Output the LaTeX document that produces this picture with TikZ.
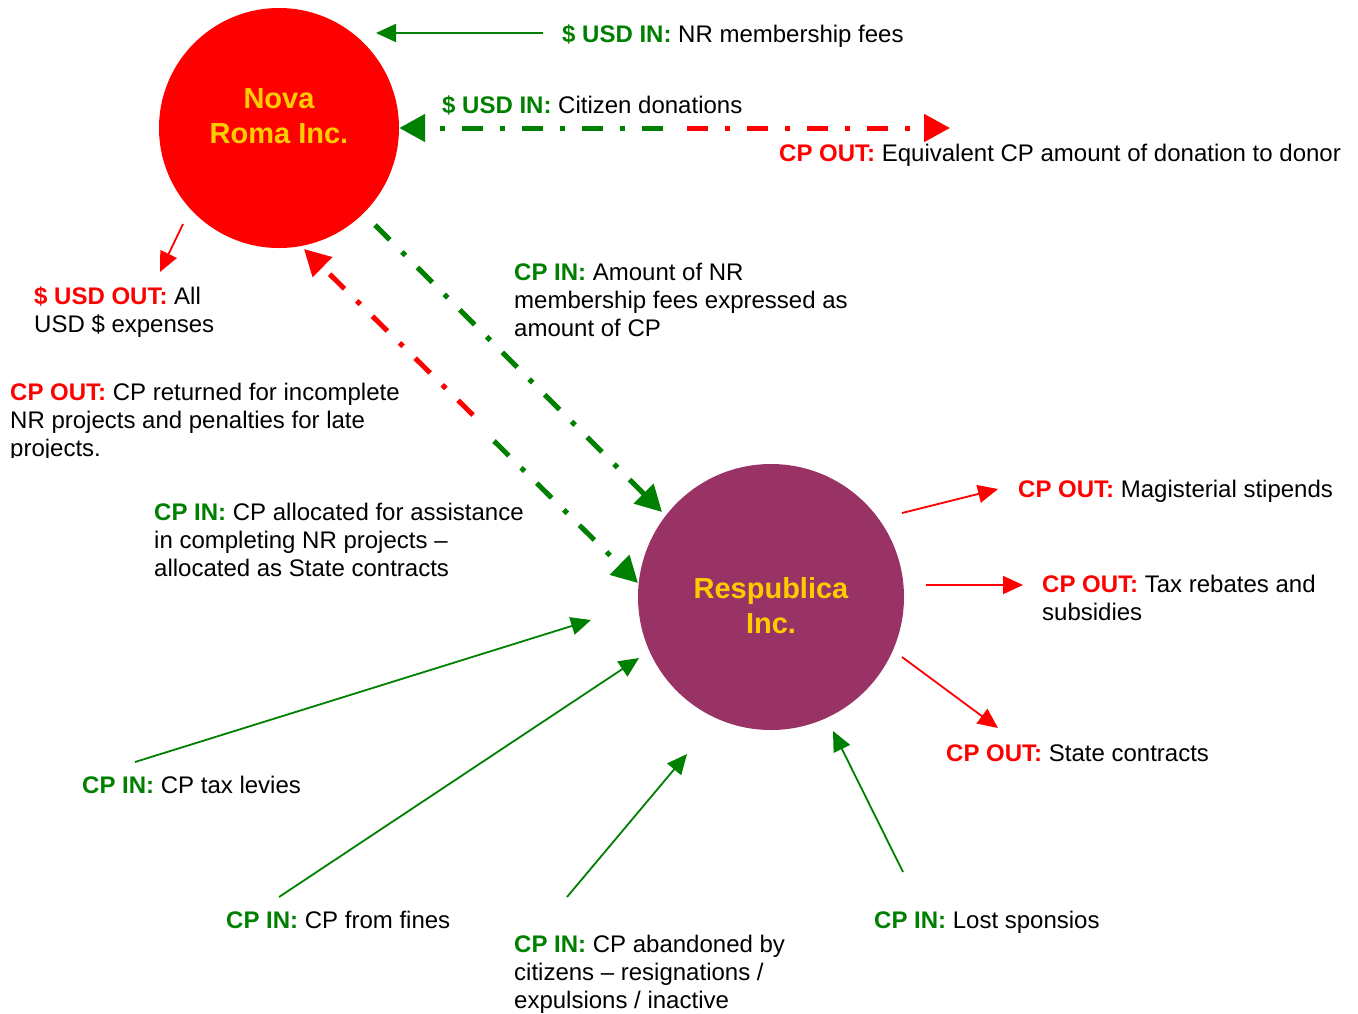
\documentclass[tikz,border=0pt]{standalone}
\usepackage{fontspec}
\setmainfont{Liberation Sans}
\usetikzlibrary{arrows.meta}
\definecolor{cpgreen}{RGB}{0,128,0}
\definecolor{cpred}{RGB}{255,0,0}
\definecolor{cppurple}{RGB}{153,51,102}
\definecolor{cpyellow}{RGB}{255,204,0}
\newcommand{\gin}[1]{\textcolor{cpgreen}{\bfseries #1}}
\newcommand{\rout}[1]{\textcolor{cpred}{\bfseries #1}}
\begin{document}
\begin{tikzpicture}[x=1pt,y=-1pt,
 lbl/.style={anchor=base west, inner sep=0pt, align=left, font=\fontsize{24}{28}\selectfont},
 ctitle/.style={font=\fontsize{29}{35}\selectfont\bfseries, text=cpyellow, align=center, inner sep=0pt},
 garrow/.style={draw=cpgreen, line width=1.8pt, -{Triangle[length=20pt,width=18pt]}},
 rarrow/.style={draw=cpred, line width=1.8pt, -{Triangle[length=20pt,width=18pt]}},
 ddash/.style={line width=5pt, dash pattern=on 21pt off 17pt on 5pt off 17pt, -{Triangle[length=26pt,width=27pt]}},
]
\fill[white] (0,0) rectangle (1358,1013);
\useasboundingbox (0,0) rectangle (1358,1013);

% main nodes
\node[circle, fill=cpred, minimum size=240pt, inner sep=0pt] (nova) at (279,128) {};
\node[circle, fill=cppurple, minimum size=266pt, inner sep=0pt] (resp) at (771,597) {};
\node[ctitle] (novat) at (279,116) {Nova\\Roma Inc.};
\node[ctitle] (respt) at (771,606) {Respublica\\Inc.};

% labels (multi-line labels are placed by the baseline of their last line)
\node[lbl] (l1) at (562,42) {\gin{\$ USD IN:} NR membership fees};
\node[lbl] (l2) at (442,113) {\gin{\$ USD IN:} Citizen donations};
\node[lbl] (l3) at (779,161) {\rout{CP OUT:} Equivalent CP amount of donation to donor};
\node[lbl] (l4) at (34,332) {\rout{\$ USD OUT:} All\\USD \$ expenses};
\begin{scope}
\clip (0,0) rectangle (1358,457);
\node[lbl] (l5) at (10,456) {\rout{CP OUT:} CP returned for incomplete\\NR projects and penalties for late\\projects.};
\end{scope}
\node[lbl] (l6) at (514,336) {\gin{CP IN:} Amount of NR\\membership fees expressed as\\amount of CP};
\node[lbl] (l7) at (154,576) {\gin{CP IN:} CP allocated for assistance\\in completing NR projects –\\allocated as State contracts};
\node[lbl] (l8) at (1018,497) {\rout{CP OUT:} Magisterial stipends};
\node[lbl] (l9) at (1042,620) {\rout{CP OUT:} Tax rebates and\\subsidies};
\node[lbl] (l10) at (946,761) {\rout{CP OUT:} State contracts};
\node[lbl] (l11) at (82,793) {\gin{CP IN:} CP tax levies};
\node[lbl] (l12) at (226,928) {\gin{CP IN:} CP from fines};
\node[lbl] (l13) at (514,1008) {\gin{CP IN:} CP abandoned by\\citizens – resignations /\\expulsions / inactive};
\node[lbl] (l14) at (874,928) {\gin{CP IN:} Lost sponsios};

% connector end points
\coordinate (a1s) at (543,33);  \coordinate (a1e) at (376,33);
\coordinate (a2s) at (663,128);
\coordinate (a3s) at (687,128); \coordinate (a3e) at (950,128);
\coordinate (a4s) at (375,225); \coordinate (a4e) at (662,512);
\coordinate (a5s) at (473,415); \coordinate (a5e) at (304,249);
\coordinate (a6s) at (494,441); \coordinate (a6e) at (638,583);
\coordinate (a7s) at (183,224); \coordinate (a7e) at (160,272);
\coordinate (r1s) at (902,513); \coordinate (r1e) at (998,489);
\coordinate (r2s) at (926,585); \coordinate (r2e) at (1023,585);
\coordinate (r3s) at (902,657); \coordinate (r3e) at (998,728);
\coordinate (g1s) at (135,762); \coordinate (g1e) at (591,620);
\coordinate (g2s) at (279,897); \coordinate (g2e) at (639,658);
\coordinate (g3s) at (567,897); \coordinate (g3e) at (687,754);
\coordinate (g4s) at (903,872); \coordinate (g4e) at (833,731);

% connectors
\draw[garrow] (a1s) -- (a1e);
\draw[ddash, cpgreen] (a2s) -- (nova.east);
\draw[ddash, cpred] (a3s) -- (a3e);
\draw[ddash, cpgreen] (a4s) -- (a4e);
\draw[ddash, cpred] (a5s) -- (a5e);
\draw[ddash, cpgreen] (a6s) -- (a6e);
\draw[rarrow] (a7s) -- (a7e);
\draw[rarrow] (r1s) -- (r1e);
\draw[rarrow] (r2s) -- (r2e);
\draw[rarrow] (r3s) -- (r3e);
\draw[garrow] (g1s) -- (g1e);
\draw[garrow] (g2s) -- (g2e);
\draw[garrow] (g3s) -- (g3e);
\draw[garrow] (g4s) -- (g4e);
\end{tikzpicture}
\end{document}
